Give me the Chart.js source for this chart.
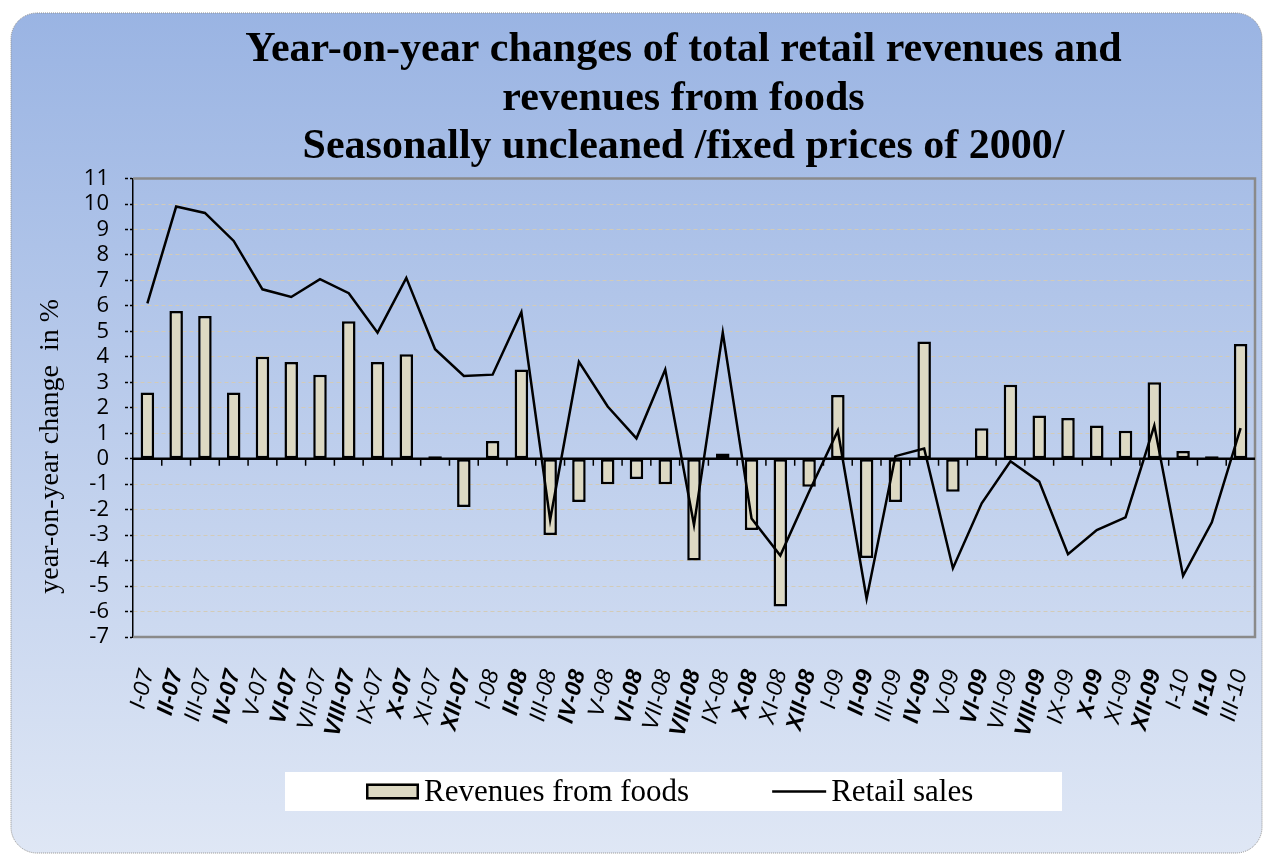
<!DOCTYPE html>
<html>
<head>
<meta charset="utf-8">
<title>Year-on-year changes of retail revenues</title>
<script src="https://cdn.jsdelivr.net/npm/chart.js@4.4.1/dist/chart.umd.min.js"></script>
<style>
  html, body { margin: 0; padding: 0; background: #fff; }
  #wrap { width: 1264px; height: 855px; }
</style>
</head>
<body>
<div id="wrap"><canvas id="chart"></canvas></div>
<script>
// months, January 2007 - March 2010
const months = [
  'I-07', 'II-07', 'III-07', 'IV-07', 'V-07', 'VI-07', 'VII-07', 'VIII-07', 'IX-07', 'X-07', 'XI-07', 'XII-07',
  'I-08', 'II-08', 'III-08', 'IV-08', 'V-08', 'VI-08', 'VII-08', 'VIII-08', 'IX-08', 'X-08', 'XI-08', 'XII-08',
  'I-09', 'II-09', 'III-09', 'IV-09', 'V-09', 'VI-09', 'VII-09', 'VIII-09', 'IX-09', 'X-09', 'XI-09', 'XII-09',
  'I-10', 'II-10', 'III-10'
];

// year-on-year change in %
const foodRevenues = [
  2.6, 5.8, 5.6, 2.6, 4.0, 3.8, 3.3, 5.4, 3.8, 4.1, 0.1, -1.9,
  0.7, 3.5, -3.0, -1.7, -1.0, -0.8, -1.0, -4.0, 0.2, -2.8, -5.8, -1.1,
  2.5, -3.9, -1.7, 4.6, -1.3, 1.2, 2.9, 1.7, 1.6, 1.3, 1.1, 3.0,
  0.3, 0.1, 4.5
];
const retailSales = [
  6.1, 9.9, 9.65, 8.55, 6.65, 6.35, 7.05, 6.5, 4.95, 7.1, 4.3, 3.25,
  3.3, 5.75, -2.4, 3.8, 2.05, 0.8, 3.5, -2.6, 4.95, -2.35, -3.8, -1.3,
  1.1, -5.5, 0.1, 0.4, -4.3, -1.75, -0.1, -0.9, -3.75, -2.8, -2.3, 1.3,
  -4.6, -2.5, 1.2
];

const yMin = -7;
const yMax = 11;
const yStep = 1;

// the trailing spaces nudge the centred lines a little to the left
const titleLines = [
  'Year-on-year changes of total retail revenues and\u00a0\u00a0',
  'revenues from foods\u00a0\u00a0',
  'Seasonally uncleaned /fixed prices of 2000/\u00a0\u00a0'
];

// rounded gradient panel behind everything
const panel = {
  id: 'panel',
  beforeDraw(chart) {
    const ctx = chart.ctx;
    ctx.save();
    ctx.fillStyle = '#fff';
    ctx.fillRect(0, 0, chart.width, chart.height);
    const g = ctx.createLinearGradient(0, 13, 0, chart.height);
    g.addColorStop(0, '#9ab4e3');
    g.addColorStop(1, '#dfe7f5');
    ctx.beginPath();
    ctx.roundRect(11, 13, chart.width - 13, chart.height - 15, 26);
    ctx.fillStyle = g;
    ctx.fill();
    ctx.setLineDash([1, 1]);
    ctx.strokeStyle = '#8f8f8f';
    ctx.lineWidth = 1;
    ctx.stroke();
    ctx.restore();
  }
};

// grey plot frame, zero line and category marks on it
const frame = {
  id: 'frame',
  beforeDatasetsDraw(chart) {
    const {ctx, chartArea: a, scales: {x, y}} = chart;
    ctx.save();
    ctx.strokeStyle = '#8a8a8a';
    ctx.lineWidth = 2.5;
    ctx.beginPath();
    ctx.moveTo(a.left, a.top);
    ctx.lineTo(a.right, a.top);
    ctx.lineTo(a.right, a.bottom);
    ctx.lineTo(a.left, a.bottom);
    ctx.stroke();

    const y0 = y.getPixelForValue(0);
    ctx.strokeStyle = '#000';
    ctx.lineWidth = 1.5;
    ctx.beginPath();
    for (let i = 0; i < months.length - 1; i++) {
      const bx = (x.getPixelForValue(i) + x.getPixelForValue(i + 1)) / 2;
      ctx.moveTo(bx, y0);
      ctx.lineTo(bx, y0 + 7);
    }
    ctx.stroke();
    ctx.lineWidth = 2.5;
    ctx.beginPath();
    ctx.moveTo(a.left, y0);
    ctx.lineTo(a.right, y0);
    ctx.stroke();
    ctx.restore();
  }
};

// legend in a white strip under the axis labels
const boxLegend = {
  id: 'boxLegend',
  afterDraw(chart) {
    const ctx = chart.ctx;
    const bars = chart.data.datasets[0];
    const line = chart.data.datasets[1];
    const boxX = 285, boxY = 772, boxW = 777, boxH = 39;
    const cy = boxY + boxH / 2;
    ctx.save();
    ctx.fillStyle = '#fff';
    ctx.fillRect(boxX, boxY, boxW, boxH);
    ctx.font = '31px "Liberation Serif"';
    ctx.textBaseline = 'middle';

    let cx = boxX + 81;
    ctx.fillStyle = bars.backgroundColor;
    ctx.fillRect(cx, cy - 8, 53, 16);
    ctx.strokeStyle = bars.borderColor;
    ctx.lineWidth = 2.5;
    ctx.strokeRect(cx + 1.25, cy - 6.75, 50.5, 13.5);
    cx += 58;
    ctx.fillStyle = '#000';
    ctx.fillText(bars.label, cx, cy + 1);
    cx += ctx.measureText(bars.label).width + 83;

    ctx.strokeStyle = line.borderColor;
    ctx.lineWidth = line.borderWidth;
    ctx.beginPath();
    ctx.moveTo(cx, cy);
    ctx.lineTo(cx + 54, cy);
    ctx.stroke();
    cx += 59;
    ctx.fillText(line.label, cx, cy + 1);
    ctx.restore();
  }
};

const ctx = document.getElementById('chart').getContext('2d');
const myChart = new Chart(ctx, {
  type: 'bar',
  data: {
    labels: months,
    datasets: [
      {
        type: 'bar',
        label: 'Revenues from foods',
        data: foodRevenues,
        backgroundColor: '#ddd9c3',
        borderColor: '#000',
        borderWidth: 2.5,
        borderSkipped: false,
        barPercentage: 0.47,
        categoryPercentage: 1,
        order: 1
      },
      {
        type: 'line',
        label: 'Retail sales',
        data: retailSales,
        borderColor: '#000',
        backgroundColor: '#000',
        borderWidth: 2.5,
        pointRadius: 0,
        tension: 0,
        fill: false,
        order: 0
      }
    ]
  },
  options: {
    responsive: true,
    maintainAspectRatio: false,
    animation: false,
    layout: { padding: { left: 12, right: 9, top: 13, bottom: 0 } },
    plugins: {
      legend: { display: false },
      tooltip: { enabled: false },
      title: {
        display: true,
        fullSize: false,
        text: titleLines,
        color: '#000',
        font: { family: 'Liberation Serif', size: 42, weight: 'bold', lineHeight: 1.155 },
        padding: { top: 13, bottom: 7 }
      }
    },
    scales: {
      x: {
        grid: { display: false, drawTicks: false },
        border: { display: false },
        afterFit(scale) {
          scale.height = 218;
          scale.paddingLeft = 0;
          scale.paddingRight = 0;
        },
        ticks: {
          autoSkip: false,
          minRotation: 76,
          maxRotation: 76,
          padding: 30,
          color: '#000',
          font: (c) => ({
            family: 'Liberation Sans',
            size: 23,
            style: 'italic',
            weight: c.index % 2 === 1 ? 'bold' : 'normal'
          })
        }
      },
      y: {
        min: yMin,
        max: yMax,
        afterFit(scale) { scale.width = 121; },
        ticks: {
          stepSize: yStep,
          autoSkip: false,
          padding: 16,
          color: '#000',
          font: { family: 'Open Sans', size: 22 }
        },
        grid: {
          color: (c) => c.tick && c.tick.value === 0 ? 'rgba(0,0,0,0)' : '#d2cbb8',
          lineWidth: 1,
          tickLength: 8,
          tickColor: '#000',
          tickWidth: 1.5,
          tickBorderDash: [3, 2]
        },
        border: { display: true, color: '#000', width: 1.5, dash: [4, 3] },
        title: {
          display: true,
          text: 'year-on-year change  in %' + '\u00a0'.repeat(11),
          color: '#000',
          font: { family: 'Liberation Serif', size: 28 },
          padding: { top: 22, bottom: 0 }
        }
      }
    }
  },
  plugins: [panel, frame, boxLegend]
});
</script>
</body>
</html>
